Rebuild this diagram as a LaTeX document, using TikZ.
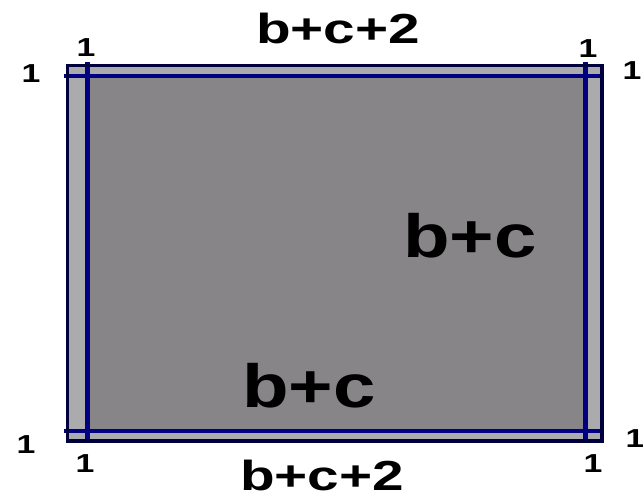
\documentclass[tikz,border=0pt]{standalone}
\usepackage{fontspec}
\setmainfont{Liberation Sans}
\definecolor{boxgray}{HTML}{878587}
\definecolor{stripgray}{HTML}{ABABAD}
\definecolor{linenavy}{HTML}{000080}
\definecolor{edgenavy}{HTML}{00003C}
\tikzset{
  onelabel/.style={anchor=base, font=\fontsize{26}{26}\selectfont\bfseries, xscale=1.3, inner sep=0pt},
  sumlabel/.style={anchor=base, font=\fontsize{42}{42}\selectfont\bfseries, xscale=1.35, inner sep=0pt},
  bclabel/.style={anchor=base, font=\fontsize{61}{61}\selectfont\bfseries, xscale=1.25, inner sep=0pt}
}
\begin{document}
\begin{tikzpicture}[x=1pt, y=-1pt]
    % --- Define Coordinates and Parameters ---
    \def\xL{67}    % left edge of the box
    \def\xR{601}   % right edge of the box
    \def\yT{65}    % top edge of the box
    \def\yB{440}   % bottom edge of the box
    \def\xa{87}    % inner vertical line, left
    \def\xb{585}   % inner vertical line, right
    \def\ya{76}    % inner horizontal line, top
    \def\yb{431}   % inner horizontal line, bottom

    \useasboundingbox (0,0) rectangle (643,498);

    % --- Draw the Box ---
    % light strips all round, gray core inside the inner lines
    \fill[stripgray] (\xL,\yT) rectangle (\xR,\yB);
    \fill[boxgray] (\xa,\ya) rectangle (\xb,\yb);

    % --- Draw Inner Lines ---
    \draw[linenavy, line width=5pt] (\xa,\yT-3) -- (\xa,\yB+3);
    \draw[linenavy, line width=5pt] (\xb,\yT-3) -- (\xb,\yB+3);
    \draw[linenavy, line width=4.5pt] (\xL-3,\ya) -- (\xR+3,\ya);
    \draw[linenavy, line width=4.5pt] (\xL-3,\yb) -- (\xR+3,\yb);

    % Outer border, heavier on the right and the bottom
    \draw[edgenavy, line width=3pt] (\xL,\yT) rectangle (\xR,\yB);
    \draw[edgenavy, line width=4.5pt] (\xR+1,\yT-1) -- (\xR+1,\yB+1) -- (\xL-1,\yB+1);

    % --- Add Side Lengths ---
    \node[sumlabel] (topsum) at (338,43) {b+c+2};
    \node[sumlabel] (botsum) at (322,490) {b+c+2};
    \node[bclabel] (rightbc) at (470,257) {b+c};
    \node[bclabel] (lowbc) at (309,407) {b+c};

    % --- Add the Unit Strips at the Corners ---
    \node[onelabel] (tlside) at (31,82) {1};
    \node[onelabel] (tltop) at (86,56) {1};
    \node[onelabel] (trtop) at (588,57) {1};
    \node[onelabel] (trside) at (632,79) {1};
    \node[onelabel] (blside) at (26,453) {1};
    \node[onelabel] (blbot) at (85,472) {1};
    \node[onelabel] (brbot) at (593,472) {1};
    \node[onelabel] (brside) at (635,447) {1};

\end{tikzpicture}
\end{document}
